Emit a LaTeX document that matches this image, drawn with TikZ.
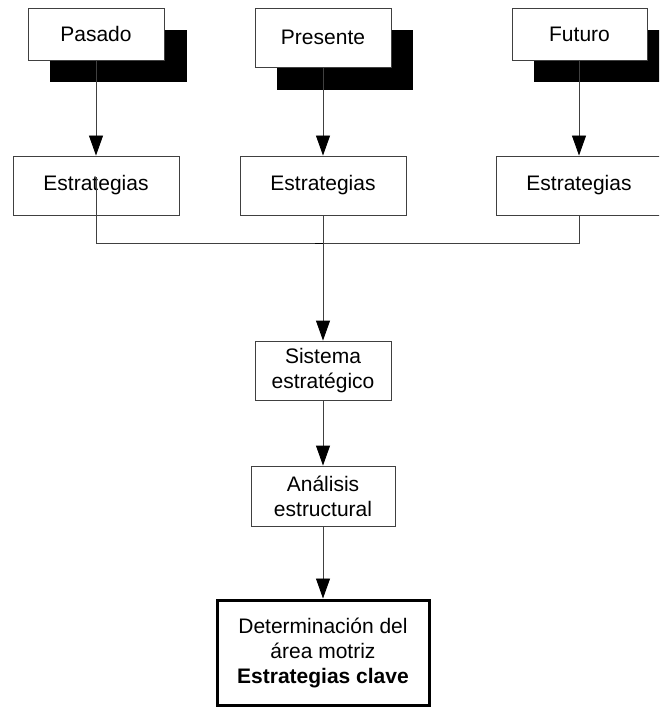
\documentclass[tikz,border=0pt]{standalone}
\usepackage{fontspec}
\setmainfont{Liberation Sans}
\usetikzlibrary{arrows.meta,calc}
\begin{document}
\begin{tikzpicture}[x=1pt,y=-1pt,
  box/.style={draw=black!75,line width=0.9pt,fill=white,inner sep=0pt,align=center,
    font=\fontsize{21}{25}\selectfont},
  shadowbox/.style={fill=black,inner sep=0pt},
  conn/.style={draw=black!75,line width=0.9pt},
  arr/.style={conn,-{Triangle[width=14pt,length=20pt,color=black,fill=black]}}]
\clip (0,0) rectangle (659,708);
\fill[white] (0,0) rectangle (659,708);
% top boxes with shadows
\node[shadowbox,minimum width=137pt,minimum height=52pt] (sp) at (118.5,56) {};
\node[box,minimum width=136pt,minimum height=52pt] (pasado) at (96,34) {Pasado};
\node[shadowbox,minimum width=136pt,minimum height=60pt] (spr) at (345,60) {};
\node[box,minimum width=136pt,minimum height=59pt] (presente) at (323,37.5) {Presente};
\node[shadowbox,minimum width=136pt,minimum height=52pt] (sf) at (602,56) {};
\node[box,minimum width=135pt,minimum height=52pt] (futuro) at (579.5,34) {Futuro};
% strategies
\node[box,minimum width=166pt,minimum height=59pt] (e1) at (96,185.5) {Estrategias};
\node[box,minimum width=166pt,minimum height=59pt] (e2) at (323,185.5) {Estrategias};
\node[box,minimum width=166pt,minimum height=59pt] (e3) at (579,185.5) {Estrategias};
% lower chain
\node[box,minimum width=136pt,minimum height=59pt] (sis) at (323,370.5) {Sistema\\estratégico};
\node[box,minimum width=144pt,minimum height=60pt] (ana) at (323,496) {Análisis\\estructural};
\node[box,line width=3pt,draw=black,minimum width=212pt,minimum height=105pt] (det) at (323,652.5)
  {Determinación del\\área motriz\\\textbf{Estrategias clave}};
% connectors
\draw[arr] (pasado.south -| e1.north) -- (e1.north);
\draw[arr] (presente.south) -- (e2.north);
\draw[arr] (futuro.south -| e3.north) -- (e3.north);
\coordinate (bus) at ($(e3.south)+(0,28)$);
\draw[conn] ([yshift=8pt]e1.center) |- (bus) -- (e3.south);
\draw[arr] (e2.south) -- (sis.north);
\draw[line width=1.4pt] ($(e2.south |- bus)+(-8,0)$) -- (e2.south |- bus);
\draw[arr] (sis.south) -- (ana.north);
\draw[arr] (ana.south) -- (det.north);
\end{tikzpicture}
\end{document}
